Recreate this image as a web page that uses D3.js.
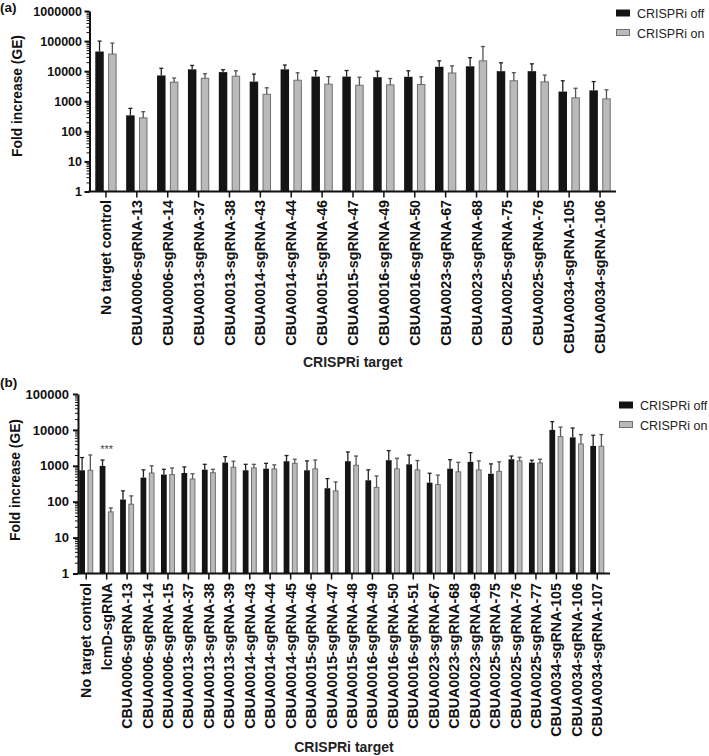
<!DOCTYPE html>
<html>
<head>
<meta charset="utf-8">
<script src="https://cdn.jsdelivr.net/npm/d3@7"></script>
<style>
  body { margin: 0; background: #fff; }
  text { font-family: Arial, "Liberation Sans", sans-serif; }
</style>
</head>
<body>
<svg id="fig" width="709" height="756"></svg>
<script>
// panel (a)
var catsA = ["No target control", "CBUA0006-sgRNA-13", "CBUA0006-sgRNA-14", "CBUA0013-sgRNA-37",
  "CBUA0013-sgRNA-38", "CBUA0014-sgRNA-43", "CBUA0014-sgRNA-44", "CBUA0015-sgRNA-46",
  "CBUA0015-sgRNA-47", "CBUA0016-sgRNA-49", "CBUA0016-sgRNA-50", "CBUA0023-sgRNA-67",
  "CBUA0023-sgRNA-68", "CBUA0025-sgRNA-75", "CBUA0025-sgRNA-76", "CBUA0034-sgRNA-105",
  "CBUA0034-sgRNA-106"];
var offA    = [45000, 340, 7200, 11500, 9300, 4500, 11500, 6600, 6600, 6300, 6500, 14000, 14500, 10000, 10000, 2100, 2300];
var offErrA = [100000, 580, 12500, 15500, 11200, 8000, 16000, 10400, 10500, 10000, 10300, 22000, 28000, 19000, 17500, 4800, 4500];
var onA     = [37000, 280, 4300, 5800, 6800, 1700, 5000, 3700, 3400, 3500, 3600, 8700, 22000, 4800, 4400, 1300, 1200];
var onErrA  = [86000, 450, 5900, 8200, 10300, 2800, 8800, 6600, 6300, 5700, 6500, 15000, 66000, 8900, 7400, 2700, 2400];
var yTicksA = [1, 10, 100, 1000, 10000, 100000, 1000000];

// panel (b)
var catsB = ["No target control", "lcmD-sgRNA", "CBUA0006-sgRNA-13", "CBUA0006-sgRNA-14",
  "CBUA0006-sgRNA-15", "CBUA0013-sgRNA-37", "CBUA0013-sgRNA-38", "CBUA0013-sgRNA-39",
  "CBUA0014-sgRNA-43", "CBUA0014-sgRNA-44", "CBUA0014-sgRNA-45", "CBUA0015-sgRNA-46",
  "CBUA0015-sgRNA-47", "CBUA0015-sgRNA-48", "CBUA0016-sgRNA-49", "CBUA0016-sgRNA-50",
  "CBUA0016-sgRNA-51", "CBUA0023-sgRNA-67", "CBUA0023-sgRNA-68", "CBUA0023-sgRNA-69",
  "CBUA0025-sgRNA-75", "CBUA0025-sgRNA-76", "CBUA0025-sgRNA-77", "CBUA0034-sgRNA-105",
  "CBUA0034-sgRNA-106", "CBUA0034-sgRNA-107"];
var offB    = [750, 990, 115, 470, 570, 630, 780, 1230, 750, 830, 1340, 750, 237, 1340, 395, 1430, 1100, 340, 830, 1290, 600, 1520, 1230, 10000, 6200, 3570];
var offErrB = [1700, 1450, 200, 770, 800, 930, 1100, 1800, 1100, 1170, 1930, 1370, 440, 2430, 770, 2650, 2000, 620, 1480, 2330, 1130, 1870, 1430, 17000, 11300, 7100];
var onB     = [750, 52, 85, 630, 570, 430, 640, 910, 870, 820, 1170, 820, 200, 1035, 250, 820, 770, 300, 680, 770, 700, 1370, 1200, 6500, 4050, 3500];
var onErrB  = [2000, 67, 145, 1000, 870, 600, 800, 1340, 1100, 1060, 1520, 1450, 355, 1870, 520, 1620, 1400, 550, 1250, 1370, 1290, 1730, 1520, 12000, 7400, 7400];
var yTicksB = [1, 10, 100, 1000, 10000, 100000];

var seriesNames = ["CRISPRi off", "CRISPRi on"];

var svg = d3.select("#fig");

function drawPanel(p) {
  var g = svg.append("g");

  var x0 = d3.scaleBand().domain(p.cats).range(p.xRange)
      .paddingInner(p.pad).paddingOuter(p.pad / 2);
  var x1 = d3.scaleBand().domain(["off", "on"]).range([0, x0.bandwidth()]).paddingInner(p.pad2);
  var y = d3.scaleLog().domain([1, p.yTicks[p.yTicks.length - 1]]).range(p.yRange);

  var rows = p.cats.map(function(c, i) {
    return [{cat: c, s: "off", v: p.off[i], e: p.offErr[i]},
            {cat: c, s: "on", v: p.on[i], e: p.onErr[i]}];
  });
  var flat = [].concat.apply([], rows);

  // bars
  g.selectAll(".bar").data(flat).enter().append("rect")
      .attr("class", "bar")
      .attr("x", function(d) { return x0(d.cat) + x1(d.s) + (d.s == "on" ? 0.5 : 0); })
      .attr("y", function(d) { return y(d.v); })
      .attr("width", function(d) { return x1.bandwidth() - (d.s == "on" ? 1 : 0); })
      .attr("height", function(d) { return y(1) - y(d.v); })
      .attr("fill", function(d) { return d.s == "off" ? "#141414" : "#bababa"; })
      .attr("stroke", function(d) { return d.s == "off" ? "none" : "#707070"; })
      .attr("stroke-width", 1);

  // error bars (upper only)
  var eb = g.selectAll(".err").data(flat).enter().append("g")
      .attr("class", "err")
      .attr("stroke", function(d) { return d.s == "off" ? "#222" : "#555"; })
      .attr("stroke-width", 1.3);
  eb.append("line")
      .attr("x1", function(d) { return x0(d.cat) + x1(d.s) + x1.bandwidth() / 2; })
      .attr("x2", function(d) { return x0(d.cat) + x1(d.s) + x1.bandwidth() / 2; })
      .attr("y1", function(d) { return y(d.v); })
      .attr("y2", function(d) { return y(d.e); });
  eb.append("line")
      .attr("x1", function(d) { return x0(d.cat) + x1(d.s) + x1.bandwidth() / 2 - 2; })
      .attr("x2", function(d) { return x0(d.cat) + x1(d.s) + x1.bandwidth() / 2 + 2; })
      .attr("y1", function(d) { return y(d.e); })
      .attr("y2", function(d) { return y(d.e); });

  // y axis: minor ticks
  var minor = y.ticks().filter(function(v) { return p.yTicks.indexOf(v) < 0; });
  var ym = g.append("g").attr("transform", "translate(" + p.axisX + ",0)")
      .call(d3.axisLeft(y).tickValues(minor).tickSize(3).tickFormat(""));
  ym.select(".domain").remove();
  ym.selectAll("line").attr("stroke", "#111").attr("stroke-width", 1);

  // y axis: majors
  var ya = g.append("g").attr("transform", "translate(" + p.axisX + ",0)")
      .call(d3.axisLeft(y).tickValues(p.yTicks).tickSize(5).tickSizeOuter(0)
        .tickPadding(p.tickPad).tickFormat(d3.format("d")));
  ya.select(".domain").attr("stroke", "#111").attr("stroke-width", 2);
  ya.selectAll("line").attr("stroke", "#111").attr("stroke-width", 2);
  ya.selectAll("text").attr("font-size", p.yFont).attr("font-weight", "bold")
      .attr("fill", "#111").attr("font-family", "Arial, 'Liberation Sans', sans-serif");

  // x axis, labels stretched a touch along their length like the original
  var stretch = 1.02;
  var xa = g.append("g").attr("transform", "translate(0," + y(1) + ")")
      .call(d3.axisBottom(x0).tickSize(6).tickSizeOuter(0));
  xa.select(".domain").remove();
  xa.selectAll("line").attr("stroke", "#111").attr("stroke-width", 1.5);
  xa.selectAll("text")
      .attr("transform", "rotate(-90) scale(" + stretch + ",1)")
      .attr("x", -p.labelGap / stretch).attr("y", 0).attr("dy", "0.36em")
      .style("text-anchor", "end")
      .attr("font-size", p.xFont).attr("font-weight", "bold").attr("fill", "#111")
      .attr("font-family", "Arial, 'Liberation Sans', sans-serif");
  g.append("line")
      .attr("x1", p.axisX - 1).attr("x2", p.axisEnd)
      .attr("y1", y(1)).attr("y2", y(1))
      .attr("stroke", "#111").attr("stroke-width", 2);

  // titles
  g.append("text")
      .attr("transform", "translate(" + p.yTitleX + "," + p.yTitleY + ") rotate(-90)")
      .attr("text-anchor", "middle").attr("font-size", 13.8).attr("font-weight", "bold")
      .attr("fill", "#111").text("Fold increase (GE)");
  g.append("text")
      .attr("x", (p.axisX + p.axisEnd) / 2).attr("y", p.xTitleY)
      .attr("text-anchor", "middle").attr("font-size", 14).attr("font-weight", "bold")
      .attr("fill", "#222").text("CRISPRi target");
  g.append("text")
      .attr("x", 0).attr("y", p.letterY)
      .attr("font-size", 13.5).attr("font-weight", "bold").attr("fill", "#111")
      .text(p.letter);

  // legend
  var lg = g.selectAll(".leg").data(seriesNames).enter().append("g")
      .attr("class", "leg")
      .attr("transform", function(d, i) { return "translate(" + p.legX + "," + (p.legY + i * 19.5) + ")"; });
  lg.append("rect")
      .attr("x", 0.5).attr("y", -3.5).attr("width", 13).attr("height", 6)
      .attr("fill", function(d, i) { return i == 0 ? "#141414" : "#bababa"; })
      .attr("stroke", function(d, i) { return i == 0 ? "#141414" : "#707070"; });
  lg.append("text")
      .attr("x", 21).attr("y", 4.5)
      .attr("font-size", 12.5).attr("fill", "#222").text(function(d) { return d; });

  return {x0: x0, y: y, g: g};
}

var pa = drawPanel({
  cats: catsA, off: offA, offErr: offErrA, on: onA, onErr: onErrA, yTicks: yTicksA,
  xRange: [90.5, 615.5], yRange: [191.5, 11], pad: 0.31, pad2: 0.34,
  axisX: 89.5, axisEnd: 616, tickPad: 2.5, yFont: 12.5, xFont: 14, labelGap: 8.5,
  yTitleX: 22, yTitleY: 96, xTitleY: 367, letter: "(a)", letterY: 12,
  legX: 616, legY: 13.5
});

var pb = drawPanel({
  cats: catsB, off: offB, offErr: offErrB, on: onB, onErr: onErrB, yTicks: yTicksB,
  xRange: [76, 607.5], yRange: [573.5, 394], pad: 0.315, pad2: 0.3,
  axisX: 78, axisEnd: 610, tickPad: 4, yFont: 13, xFont: 14, labelGap: 9.5,
  yTitleX: 20, yTitleY: 480, xTitleY: 752, letter: "(b)", letterY: 387,
  legX: 619, legY: 405.5
});

// significance mark over lcmD-sgRNA
pb.g.append("text")
    .attr("x", pb.x0("lcmD-sgRNA") + pb.x0.bandwidth() / 2)
    .attr("y", 453)
    .attr("text-anchor", "middle").attr("font-size", 11).attr("fill", "#444")
    .text("***");
</script>
</body>
</html>
